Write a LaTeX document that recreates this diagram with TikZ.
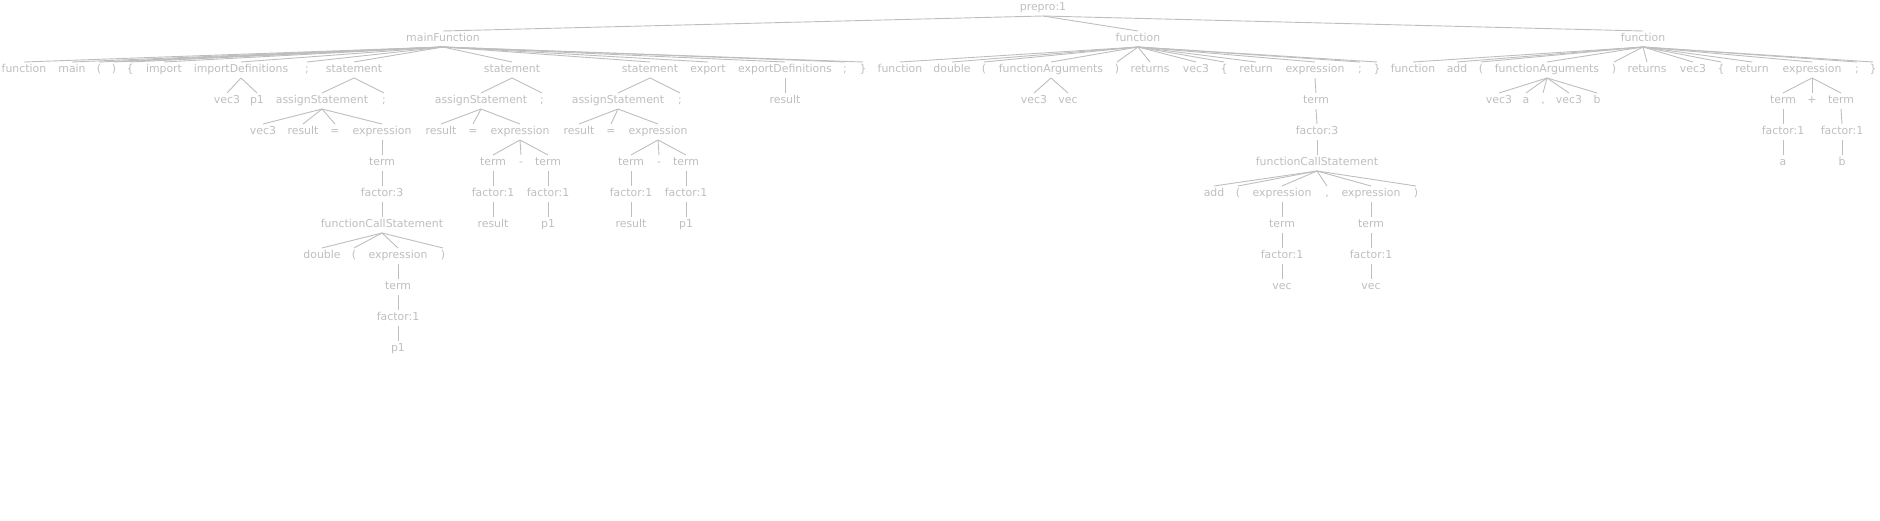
\documentclass[tikz,border=0pt]{standalone}
\usepackage{fontspec}
\setmainfont{DejaVu Sans}
\definecolor{treegray}{RGB}{190,190,190}

\begin{document}
\begin{tikzpicture}[x=1pt,y=-1pt]
  \tikzstyle{tok}=[inner sep=0pt,outer sep=3pt,text height=7.5pt,text depth=2.5pt,
    text=treegray,font=\fontsize{10.9}{13}\selectfont]
  \tikzstyle{edge}=[draw=treegray,line width=0.9pt]
  \useasboundingbox (0,0) rectangle (1880,521);

  % -- root --
  \node[tok] (prepro) at (1043,8) {prepro:1};
  \node[tok] (mainfn) at (443,39) {mainFunction};
  \node[tok] (fdbl) at (1138,39) {function};
  \node[tok] (fadd) at (1643,39) {function};
  \foreach \c in {mainfn,fdbl,fadd} \draw[edge] (prepro.south) -- (\c.north);

  % -- mainFunction --
  \node[tok] (mFunc) at (24,70) {function};
  \node[tok] (mMain) at (72,70) {main};
  \node[tok] (mLp) at (99,70) {(};
  \node[tok] (mRp) at (114,70) {)};
  \node[tok] (mLb) at (130,70) {\{};
  \node[tok] (mImp) at (164,70) {import};
  \node[tok] (mImpDefs) at (241,70) {importDefinitions};
  \node[tok] (mSemi) at (307,70) {;};
  \node[tok] (mSt1) at (354,70) {statement};
  \node[tok] (mSt2) at (512,70) {statement};
  \node[tok] (mSt3) at (650,70) {statement};
  \node[tok] (mExp) at (708,70) {export};
  \node[tok] (mExpDefs) at (785,70) {exportDefinitions};
  \node[tok] (mSemiB) at (845,70) {;};
  \node[tok] (mRb) at (863,70) {\}};
  \foreach \c in {mFunc,mMain,mLp,mRp,mLb,mImp,mImpDefs,mSemi,mSt1,mSt2,mSt3,mExp,mExpDefs,mSemiB,mRb}
    \draw[edge] (mainfn.south) -- (\c.north);

  % importDefinitions
  \node[tok] (idVec) at (227,101) {vec3};
  \node[tok] (idP) at (257,101) {p1};
  \foreach \c in {idVec,idP} \draw[edge] (mImpDefs.south) -- (\c.north);

  % statement 1: vec3 result = double(p1);
  \node[tok] (a1) at (322,101) {assignStatement};
  \node[tok] (s1semi) at (384,101) {;};
  \foreach \c in {a1,s1semi} \draw[edge] (mSt1.south) -- (\c.north);
  \node[tok] (a1vec) at (263,132) {vec3};
  \node[tok] (a1res) at (303,132) {result};
  \node[tok] (a1eq) at (335,132) {=};
  \node[tok] (a1expr) at (382,132) {expression};
  \foreach \c in {a1vec,a1res,a1eq,a1expr} \draw[edge] (a1.south) -- (\c.north);
  \node[tok] (a1term) at (382,163) {term};
  \node[tok] (a1fac) at (382,194) {factor:3};
  \node[tok] (a1call) at (382,225) {functionCallStatement};
  \draw[edge] (a1expr.south) -- (a1term.north);
  \draw[edge] (a1term.south) -- (a1fac.north);
  \draw[edge] (a1fac.south) -- (a1call.north);
  \node[tok] (a1dbl) at (322,256) {double};
  \node[tok] (a1lp) at (354,256) {(};
  \node[tok] (a1arg) at (398,256) {expression};
  \node[tok] (a1rp) at (443,256) {)};
  \foreach \c in {a1dbl,a1lp,a1arg,a1rp} \draw[edge] (a1call.south) -- (\c.north);
  \node[tok] (a1argterm) at (398,287) {term};
  \node[tok] (a1argfac) at (398,318) {factor:1};
  \node[tok] (a1argp) at (398,349) {p1};
  \draw[edge] (a1arg.south) -- (a1argterm.north);
  \draw[edge] (a1argterm.south) -- (a1argfac.north);
  \draw[edge] (a1argfac.south) -- (a1argp.north);

  % statement 2: result = result - p1;
  \node[tok] (a2) at (481,101) {assignStatement};
  \node[tok] (s2semi) at (542,101) {;};
  \foreach \c in {a2,s2semi} \draw[edge] (mSt2.south) -- (\c.north);
  \node[tok] (a2res) at (441,132) {result};
  \node[tok] (a2eq) at (473,132) {=};
  \node[tok] (a2expr) at (520,132) {expression};
  \foreach \c in {a2res,a2eq,a2expr} \draw[edge] (a2.south) -- (\c.north);
  \node[tok] (a2t1) at (493,163) {term};
  \node[tok] (a2minus) at (521,163) {-};
  \node[tok] (a2t2) at (548,163) {term};
  \foreach \c in {a2t1,a2minus,a2t2} \draw[edge] (a2expr.south) -- (\c.north);
  \node[tok] (a2f1) at (493,194) {factor:1};
  \node[tok] (a2v1) at (493,225) {result};
  \node[tok] (a2f2) at (548,194) {factor:1};
  \node[tok] (a2v2) at (548,225) {p1};
  \draw[edge] (a2t1.south) -- (a2f1.north);
  \draw[edge] (a2f1.south) -- (a2v1.north);
  \draw[edge] (a2t2.south) -- (a2f2.north);
  \draw[edge] (a2f2.south) -- (a2v2.north);

  % statement 3: result = result - p1;
  \node[tok] (a3) at (618,101) {assignStatement};
  \node[tok] (s3semi) at (680,101) {;};
  \foreach \c in {a3,s3semi} \draw[edge] (mSt3.south) -- (\c.north);
  \node[tok] (a3res) at (579,132) {result};
  \node[tok] (a3eq) at (611,132) {=};
  \node[tok] (a3expr) at (658,132) {expression};
  \foreach \c in {a3res,a3eq,a3expr} \draw[edge] (a3.south) -- (\c.north);
  \node[tok] (a3t1) at (631,163) {term};
  \node[tok] (a3minus) at (659,163) {-};
  \node[tok] (a3t2) at (686,163) {term};
  \foreach \c in {a3t1,a3minus,a3t2} \draw[edge] (a3expr.south) -- (\c.north);
  \node[tok] (a3f1) at (631,194) {factor:1};
  \node[tok] (a3v1) at (631,225) {result};
  \node[tok] (a3f2) at (686,194) {factor:1};
  \node[tok] (a3v2) at (686,225) {p1};
  \draw[edge] (a3t1.south) -- (a3f1.north);
  \draw[edge] (a3f1.south) -- (a3v1.north);
  \draw[edge] (a3t2.south) -- (a3f2.north);
  \draw[edge] (a3f2.south) -- (a3v2.north);

  % exportDefinitions
  \node[tok] (edRes) at (785,101) {result};
  \draw[edge] (mExpDefs.south) -- (edRes.north);

  % -- function double --
  \node[tok] (dFunc) at (900,70) {function};
  \node[tok] (dName) at (952,70) {double};
  \node[tok] (dLp) at (984,70) {(};
  \node[tok] (dArgs) at (1051,70) {functionArguments};
  \node[tok] (dRp) at (1117,70) {)};
  \node[tok] (dRet) at (1150,70) {returns};
  \node[tok] (dType) at (1196,70) {vec3};
  \node[tok] (dLb) at (1224,70) {\{};
  \node[tok] (dReturn) at (1256,70) {return};
  \node[tok] (dExpr) at (1315,70) {expression};
  \node[tok] (dSemi) at (1360,70) {;};
  \node[tok] (dRb) at (1377,70) {\}};
  \foreach \c in {dFunc,dName,dLp,dArgs,dRp,dRet,dType,dLb,dReturn,dExpr,dSemi,dRb}
    \draw[edge] (fdbl.south) -- (\c.north);
  \node[tok] (dArgType) at (1034,101) {vec3};
  \node[tok] (dArgName) at (1068,101) {vec};
  \foreach \c in {dArgType,dArgName} \draw[edge] (dArgs.south) -- (\c.north);
  \node[tok] (dTerm) at (1316,101) {term};
  \node[tok] (dFac) at (1317,132) {factor:3};
  \node[tok] (dCall) at (1317,163) {functionCallStatement};
  \draw[edge] (dExpr.south) -- (dTerm.north);
  \draw[edge] (dTerm.south) -- (dFac.north);
  \draw[edge] (dFac.south) -- (dCall.north);
  \node[tok] (dcAdd) at (1214,194) {add};
  \node[tok] (dcLp) at (1238,194) {(};
  \node[tok] (dcE1) at (1282,194) {expression};
  \node[tok] (dcComma) at (1327,194) {,};
  \node[tok] (dcE2) at (1371,194) {expression};
  \node[tok] (dcRp) at (1416,194) {)};
  \foreach \c in {dcAdd,dcLp,dcE1,dcComma,dcE2,dcRp} \draw[edge] (dCall.south) -- (\c.north);
  \node[tok] (dcT1) at (1282,225) {term};
  \node[tok] (dcF1) at (1282,256) {factor:1};
  \node[tok] (dcV1) at (1282,287) {vec};
  \node[tok] (dcT2) at (1371,225) {term};
  \node[tok] (dcF2) at (1371,256) {factor:1};
  \node[tok] (dcV2) at (1371,287) {vec};
  \draw[edge] (dcE1.south) -- (dcT1.north);
  \draw[edge] (dcT1.south) -- (dcF1.north);
  \draw[edge] (dcF1.south) -- (dcV1.north);
  \draw[edge] (dcE2.south) -- (dcT2.north);
  \draw[edge] (dcT2.south) -- (dcF2.north);
  \draw[edge] (dcF2.south) -- (dcV2.north);

  % -- function add --
  \node[tok] (aFunc) at (1413,70) {function};
  \node[tok] (aName) at (1457,70) {add};
  \node[tok] (aLp) at (1481,70) {(};
  \node[tok] (aArgs) at (1547,70) {functionArguments};
  \node[tok] (aRp) at (1614,70) {)};
  \node[tok] (aRet) at (1647,70) {returns};
  \node[tok] (aType) at (1693,70) {vec3};
  \node[tok] (aLb) at (1721,70) {\{};
  \node[tok] (aReturn) at (1752,70) {return};
  \node[tok] (aExpr) at (1812,70) {expression};
  \node[tok] (aSemi) at (1857,70) {;};
  \node[tok] (aRb) at (1873,70) {\}};
  \foreach \c in {aFunc,aName,aLp,aArgs,aRp,aRet,aType,aLb,aReturn,aExpr,aSemi,aRb}
    \draw[edge] (fadd.south) -- (\c.north);
  \node[tok] (aaT1) at (1499,101) {vec3};
  \node[tok] (aaA) at (1526,101) {a};
  \node[tok] (aaComma) at (1543,101) {,};
  \node[tok] (aaT2) at (1569,101) {vec3};
  \node[tok] (aaB) at (1597,101) {b};
  \foreach \c in {aaT1,aaA,aaComma,aaT2,aaB} \draw[edge] (aArgs.south) -- (\c.north);
  \node[tok] (aeT1) at (1783,101) {term};
  \node[tok] (aePlus) at (1812,101) {+};
  \node[tok] (aeT2) at (1841,101) {term};
  \foreach \c in {aeT1,aePlus,aeT2} \draw[edge] (aExpr.south) -- (\c.north);
  \node[tok] (aeF1) at (1783,132) {factor:1};
  \node[tok] (aeA) at (1783,163) {a};
  \node[tok] (aeF2) at (1842,132) {factor:1};
  \node[tok] (aeB) at (1842,163) {b};
  \draw[edge] (aeT1.south) -- (aeF1.north);
  \draw[edge] (aeF1.south) -- (aeA.north);
  \draw[edge] (aeT2.south) -- (aeF2.north);
  \draw[edge] (aeF2.south) -- (aeB.north);
\end{tikzpicture}
\end{document}
